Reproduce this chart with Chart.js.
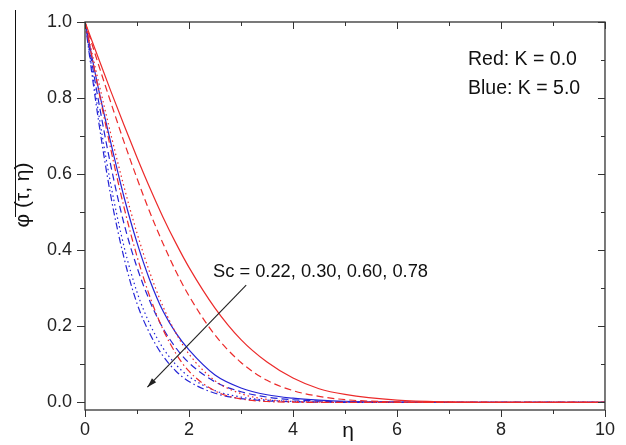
<!DOCTYPE html>
<html>
<head>
<meta charset="utf-8">
<script src="https://cdn.jsdelivr.net/npm/chart.js@4.4.1/dist/chart.umd.min.js"></script>
<style>
  html, body { margin: 0; padding: 0; background: #fff; }
  #box { width: 626px; height: 445px; }
</style>
</head>
<body>
<div id="box"><canvas id="phiCanvas"></canvas></div>
<script>
// eta grid and concentration profiles
const eta = [0, 0.25, 0.5, 0.75, 1, 1.25, 1.5, 1.75, 2, 2.5, 3, 3.5, 4, 4.5, 5, 6, 7, 8, 9, 10];

// Red: K = 0.0
const redSc022 = [1, 0.908, 0.817, 0.729, 0.644, 0.563, 0.487, 0.418, 0.355, 0.248, 0.165, 0.106, 0.064, 0.036, 0.021, 0.006, 0.0013, 0.0002, 0, 0];
const redSc030 = [1, 0.892, 0.787, 0.685, 0.589, 0.499, 0.418, 0.344, 0.280, 0.177, 0.105, 0.058, 0.031, 0.016, 0.0072, 0.0012, 0.0001, 0, 0, 0];
const redSc060 = [1, 0.849, 0.703, 0.567, 0.445, 0.340, 0.252, 0.182, 0.127, 0.057, 0.023, 0.0078, 0.0024, 0.0006, 0.0001, 0, 0, 0, 0, 0];
const redSc078 = [1, 0.828, 0.663, 0.513, 0.384, 0.277, 0.192, 0.128, 0.082, 0.030, 0.0092, 0.0023, 0.0005, 0.0001, 0, 0, 0, 0, 0, 0];

// Blue: K = 5.0
const blueSc022 = [1, 0.83, 0.68, 0.54, 0.42, 0.32, 0.24, 0.182, 0.138, 0.072, 0.038, 0.02, 0.011, 0.006, 0.003, 0.001, 0.0003, 0.0001, 0, 0];
const blueSc030 = [1, 0.80, 0.62, 0.47, 0.355, 0.265, 0.195, 0.143, 0.104, 0.054, 0.028, 0.014, 0.007, 0.0035, 0.0017, 0.0004, 0.0001, 0, 0, 0];
const blueSc060 = [1, 0.77, 0.57, 0.41, 0.29, 0.205, 0.143, 0.099, 0.068, 0.031, 0.014, 0.006, 0.0027, 0.0012, 0.0005, 0.0001, 0, 0, 0, 0];
const blueSc078 = [1, 0.75, 0.54, 0.38, 0.26, 0.18, 0.122, 0.082, 0.055, 0.024, 0.010, 0.004, 0.0016, 0.0006, 0.0002, 0, 0, 0, 0, 0];

const xTicks = [0, 2, 4, 6, 8, 10];
const xMinorTicks = [1, 3, 5, 7, 9];
const yTicks = [0, 0.2, 0.4, 0.6, 0.8, 1.0];
const yMinorTicks = [0.1, 0.3, 0.5, 0.7, 0.9];

// arrow from (eta, phi) to (eta, phi)
const arrowFrom = [3.1, 0.308];
const arrowTo = [1.2, 0.04];

const RED = "#ec2a2a";
const BLUE = "#2424d6";
const solid = [];
const dashed = [7, 4];
const dotted = [1.5, 3];
const dashDot = [7, 3, 1.5, 3];

function series(values, color, dash) {
    return {
        data: eta.map((e, i) => ({ x: e, y: values[i] })),
        borderColor: color,
        borderWidth: 1.2,
        borderDash: dash,
        pointRadius: 0,
        fill: false,
        cubicInterpolationMode: "monotone",
    };
}

const FONT = "'Liberation Sans', Arial, sans-serif";

const decor = {
    id: "decor",
    afterDraw(chart) {
        const c = chart.ctx;
        const xs = chart.scales.x;
        const ys = chart.scales.y;
        const a = chart.chartArea;
        c.save();
        // frame
        c.strokeStyle = "#333";
        c.lineWidth = 1.3;
        c.strokeRect(a.left, a.top, a.right - a.left, a.bottom - a.top);
        c.lineWidth = 1;
        c.beginPath();
        yTicks.forEach((v) => {
            const p = Math.round(ys.getPixelForValue(v)) + 0.5;
            c.moveTo(a.left - 8, p); c.lineTo(a.left, p);
            c.moveTo(a.right, p); c.lineTo(a.right - 7, p);
        });
        yMinorTicks.forEach((v) => {
            const p = Math.round(ys.getPixelForValue(v)) + 0.5;
            c.moveTo(a.left - 5, p); c.lineTo(a.left, p);
            c.moveTo(a.right, p); c.lineTo(a.right - 4, p);
        });
        xTicks.forEach((v) => {
            const p = Math.round(xs.getPixelForValue(v)) + 0.5;
            c.moveTo(p, a.bottom + 7); c.lineTo(p, a.bottom);
            c.moveTo(p, a.top); c.lineTo(p, a.top + 7);
        });
        xMinorTicks.forEach((v) => {
            const p = Math.round(xs.getPixelForValue(v)) + 0.5;
            c.moveTo(p, a.bottom + 4); c.lineTo(p, a.bottom);
            c.moveTo(p, a.top); c.lineTo(p, a.top + 4);
        });
        c.stroke();

        // arrow
        const x1 = xs.getPixelForValue(arrowFrom[0]), y1 = ys.getPixelForValue(arrowFrom[1]);
        const x2 = xs.getPixelForValue(arrowTo[0]), y2 = ys.getPixelForValue(arrowTo[1]);
        c.strokeStyle = "#222";
        c.fillStyle = "#222";
        c.lineWidth = 1.1;
        c.beginPath(); c.moveTo(x1, y1); c.lineTo(x2, y2); c.stroke();
        const ang = Math.atan2(y2 - y1, x2 - x1);
        c.beginPath();
        c.moveTo(x2, y2);
        c.lineTo(x2 - 10 * Math.cos(ang - 0.3), y2 - 10 * Math.sin(ang - 0.3));
        c.lineTo(x2 - 10 * Math.cos(ang + 0.3), y2 - 10 * Math.sin(ang + 0.3));
        c.closePath(); c.fill();

        // texts
        c.fillStyle = "#111";
        c.textAlign = "left";
        c.textBaseline = "alphabetic";
        c.font = "18.3px " + FONT;
        c.fillText("Sc = 0.22, 0.30, 0.60, 0.78", 213, 277);
        c.font = "19.5px " + FONT;
        c.fillText("Red: K = 0.0", 468, 65);
        c.fillText("Blue: K = 5.0", 468, 94);

        // axis titles
        c.font = "21px " + FONT;
        c.textAlign = "center";
        c.fillText("η", 348, 437);
        c.save();
        c.translate(23, 195);
        c.rotate(-Math.PI / 2);
        c.textBaseline = "middle";
        c.fillText("φ (τ, η)", 0, 0);
        c.restore();
        c.strokeStyle = "#111";
        c.lineWidth = 1;
        c.beginPath(); c.moveTo(15.5, 10); c.lineTo(15.5, 217); c.stroke();
        c.restore();
    },
};

const ctx = document.getElementById("phiCanvas").getContext("2d");
const phiChart = new Chart(ctx, {
    type: "line",
    data: {
        datasets: [
            series(redSc022, RED, solid),
            series(redSc030, RED, dashed),
            series(redSc060, RED, dotted),
            series(redSc078, RED, dashDot),
            series(blueSc022, BLUE, solid),
            series(blueSc030, BLUE, dashed),
            series(blueSc060, BLUE, dotted),
            series(blueSc078, BLUE, dashDot),
        ],
    },
    options: {
        responsive: true,
        maintainAspectRatio: false,
        animation: false,
        layout: { padding: { left: 0, right: 16, top: 15, bottom: 0 } },
        plugins: { legend: { display: false }, tooltip: { enabled: false } },
        scales: {
            x: {
                type: "linear",
                min: 0,
                max: 10,
                grid: { display: false, drawTicks: false },
                border: { display: false },
                afterBuildTicks: (s) => { s.ticks = xTicks.map((v) => ({ value: v })); },
                afterFit: (s) => { s.height = 35; },
                ticks: { color: "#222", padding: 11, font: { size: 18, family: FONT, lineHeight: 1 }, maxRotation: 0 },
            },
            y: {
                min: -0.02,
                max: 1.0,
                grid: { display: false, drawTicks: false },
                border: { display: false },
                afterBuildTicks: (s) => { s.ticks = yTicks.map((v) => ({ value: v })); },
                afterFit: (s) => { s.width = 85; },
                ticks: {
                    color: "#222",
                    padding: 13,
                    font: { size: 18, family: FONT, lineHeight: 1 },
                    callback: (v) => v.toFixed(1),
                },
            },
        },
    },
    plugins: [decor],
});
</script>
</body>
</html>
